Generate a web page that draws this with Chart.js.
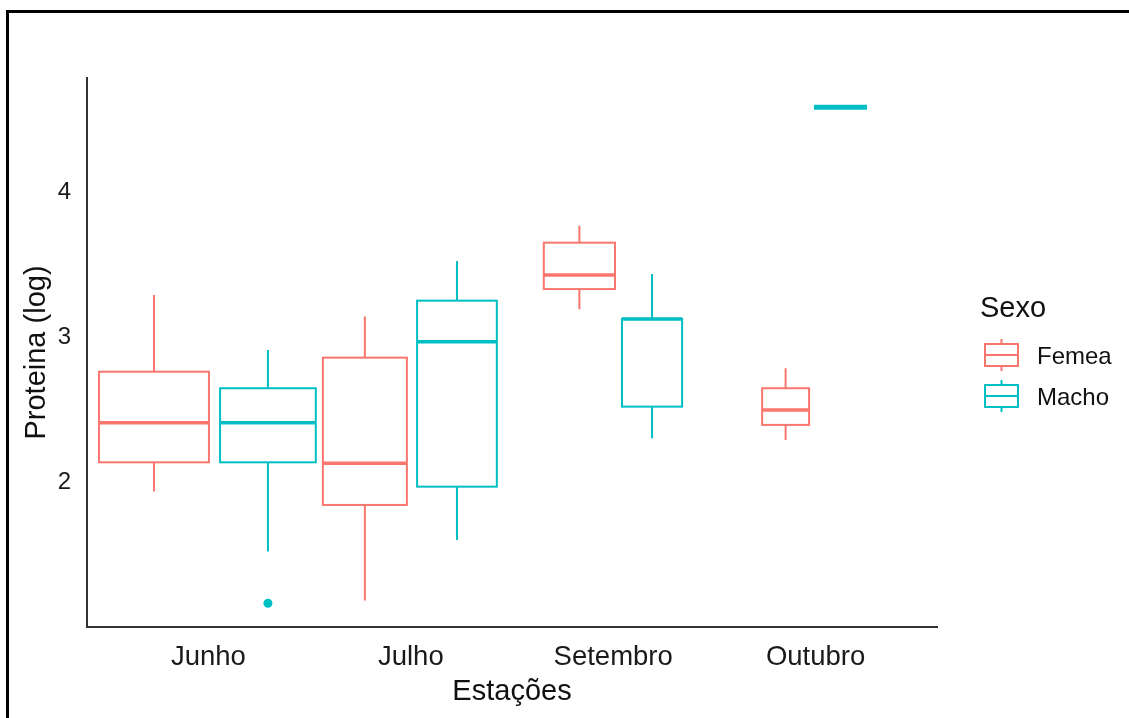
<!DOCTYPE html>
<html>
<head>
<meta charset="utf-8">
<script src="https://cdn.jsdelivr.net/npm/chart.js@4/dist/chart.umd.min.js"></script>
<style>
  html, body { margin: 0; padding: 0; background: #ffffff; }
  #wrap { position: relative; width: 1129px; height: 718px; }
</style>
</head>
<body>
<div id="wrap"><canvas id="chart"></canvas></div>
<script>
// Categories and tick labels
const categories = ['Junho', 'Julho', 'Setembro', 'Outubro'];
const yTickValues = [2, 3, 4];

// Five-number summaries per month (log protein)
const femeaLow    = [1.937, 1.185, 3.194, 2.293];
const femeaQ1     = [2.139, 1.845, 3.334, 2.397];
const femeaMedian = [2.412, 2.132, 3.431, 2.500];
const femeaQ3     = [2.764, 2.861, 3.654, 2.650];
const femeaHigh   = [3.293, 3.144, 3.771, 2.787];

const machoLow    = [1.523, 1.603, 2.305, 4.588];
const machoQ1     = [2.139, 1.971, 2.523, 4.588];
const machoMedian = [2.412, 2.971, 3.128, 4.588];
const machoQ3     = [2.650, 3.254, 3.128, 4.588];
const machoHigh   = [2.914, 3.528, 3.438, 4.588];

// Outliers: one list per month
const femeaOutliers = [[], [], [], []];
const machoOutliers = [[1.167], [], [], []];

// Dodge layout (in category units): box centre offset and box width
const femeaOffset = [-0.269, -0.227, -0.167, -0.148];
const femeaWidth  = [0.543, 0.415, 0.352, 0.232];
const machoOffset = [0.294, 0.228, 0.192, 0.123];
const machoWidth  = [0.473, 0.394, 0.297, 0.262];

const series = [
  { label: 'Femea', color: '#F8766D', low: femeaLow, q1: femeaQ1, median: femeaMedian, q3: femeaQ3, high: femeaHigh, outliers: femeaOutliers, offset: femeaOffset, width: femeaWidth },
  { label: 'Macho', color: '#00BFC4', low: machoLow, q1: machoQ1, median: machoMedian, q3: machoQ3, high: machoHigh, outliers: machoOutliers, offset: machoOffset, width: machoWidth }
];

const FONT = '"Liberation Sans", Arial, sans-serif';

// Outer frame lines
const framePlugin = {
  id: 'frame',
  beforeDraw(chart) {
    const ctx = chart.ctx;
    ctx.save();
    ctx.fillStyle = '#ffffff';
    ctx.fillRect(0, 0, chart.width, chart.height);
    ctx.fillStyle = '#000000';
    ctx.fillRect(6, 10, chart.width - 6, 3);
    ctx.fillRect(6, 10, 3, chart.height - 10);
    ctx.restore();
  }
};

// Box-and-whisker marks drawn through the chart scales
const boxPlugin = {
  id: 'boxes',
  beforeDatasetsDraw(chart) {
    const ctx = chart.ctx;
    const xs = chart.scales.x, ys = chart.scales.y;
    ctx.save();
    series.forEach(s => {
      categories.forEach((c, i) => {
        const cx = xs.getPixelForValue(i + s.offset[i]);
        const x0 = xs.getPixelForValue(i + s.offset[i] - s.width[i] / 2);
        const x1 = xs.getPixelForValue(i + s.offset[i] + s.width[i] / 2);
        const yLow = ys.getPixelForValue(s.low[i]);
        const yQ1 = ys.getPixelForValue(s.q1[i]);
        const yMed = ys.getPixelForValue(s.median[i]);
        const yQ3 = ys.getPixelForValue(s.q3[i]);
        const yHigh = ys.getPixelForValue(s.high[i]);
        ctx.strokeStyle = s.color;
        ctx.lineCap = 'butt';
        // whiskers
        ctx.lineWidth = 2;
        ctx.beginPath();
        ctx.moveTo(cx, yQ3); ctx.lineTo(cx, yHigh);
        ctx.moveTo(cx, yQ1); ctx.lineTo(cx, yLow);
        ctx.stroke();
        // box
        ctx.fillStyle = '#ffffff';
        ctx.fillRect(x0, yQ3, x1 - x0, yQ1 - yQ3);
        ctx.strokeRect(x0, yQ3, x1 - x0, yQ1 - yQ3);
        // median (a collapsed box gets a heavier bar)
        ctx.lineWidth = (yQ1 - yQ3) < 1 ? 5 : 3.5;
        ctx.beginPath();
        ctx.moveTo(x0, yMed); ctx.lineTo(x1, yMed);
        ctx.stroke();
      });
    });
    ctx.restore();
  }
};

// Legend with box-plot keys
const legendPlugin = {
  id: 'boxLegend',
  afterDraw(chart) {
    const ctx = chart.ctx;
    ctx.save();
    ctx.fillStyle = '#111111';
    ctx.font = '29px ' + FONT;
    ctx.textBaseline = 'middle';
    ctx.textAlign = 'left';
    ctx.fillText('Sexo', 980, 309);
    chart.data.datasets.forEach((ds, k) => {
      const top = 339 + k * 41;
      const cx = 1001.5;
      ctx.strokeStyle = ds.borderColor;
      ctx.lineWidth = 2;
      ctx.beginPath();
      ctx.moveTo(cx, top); ctx.lineTo(cx, top + 5);
      ctx.moveTo(cx, top + 27); ctx.lineTo(cx, top + 32);
      ctx.stroke();
      ctx.strokeRect(985, top + 5, 33, 22);
      ctx.beginPath();
      ctx.moveTo(985, top + 16); ctx.lineTo(1018, top + 16);
      ctx.stroke();
      ctx.fillStyle = '#111111';
      ctx.font = '24px ' + FONT;
      ctx.fillText(ds.label, 1037, top + 18);
    });
    ctx.restore();
  }
};

const datasets = series.map(s => ({
  label: s.label,
  borderColor: s.color,
  backgroundColor: s.color,
  pointRadius: 4.5,
  pointHoverRadius: 4.5,
  pointBorderWidth: 0,
  data: s.outliers.flatMap((vals, i) => vals.map(v => ({ x: i + s.offset[i], y: v })))
}));

new Chart(document.getElementById('chart'), {
  type: 'scatter',
  data: { datasets },
  options: {
    responsive: true,
    maintainAspectRatio: false,
    devicePixelRatio: 1,
    animation: false,
    events: [],
    layout: { padding: { top: 78, right: 192, left: 0, bottom: 0 } },
    plugins: {
      legend: { display: false },
      tooltip: { enabled: false }
    },
    scales: {
      x: {
        type: 'linear',
        min: -0.6,
        max: 3.6,
        afterBuildTicks: (scale) => { scale.ticks = categories.map((c, i) => ({ value: i })); },
        afterFit: (scale) => { scale.height = 91; },
        ticks: {
          callback: (v) => categories[v],
          color: '#1a1a1a',
          font: { family: FONT, size: 27.5 },
          padding: 14,
          maxRotation: 0,
          autoSkip: false
        },
        grid: { display: false, drawTicks: false },
        border: { display: true, color: '#333333', width: 2 },
        title: {
          display: true,
          text: 'Estações',
          color: '#111111',
          font: { family: FONT, size: 29 },
          padding: { top: 4, bottom: 9 }
        }
      },
      y: {
        type: 'linear',
        min: 1.003,
        max: 4.79,
        afterBuildTicks: (scale) => { scale.ticks = yTickValues.map(v => ({ value: v })); },
        afterFit: (scale) => { scale.width = 87; },
        ticks: {
          color: '#1a1a1a',
          font: { family: FONT, size: 24 },
          padding: 16
        },
        grid: { display: false, drawTicks: false },
        border: { display: true, color: '#333333', width: 2 },
        title: {
          display: true,
          text: 'Proteina (log)',
          color: '#111111',
          font: { family: FONT, size: 29 },
          padding: { top: 20, bottom: 0 }
        }
      }
    }
  },
  plugins: [framePlugin, boxPlugin, legendPlugin]
});
</script>
</body>
</html>
